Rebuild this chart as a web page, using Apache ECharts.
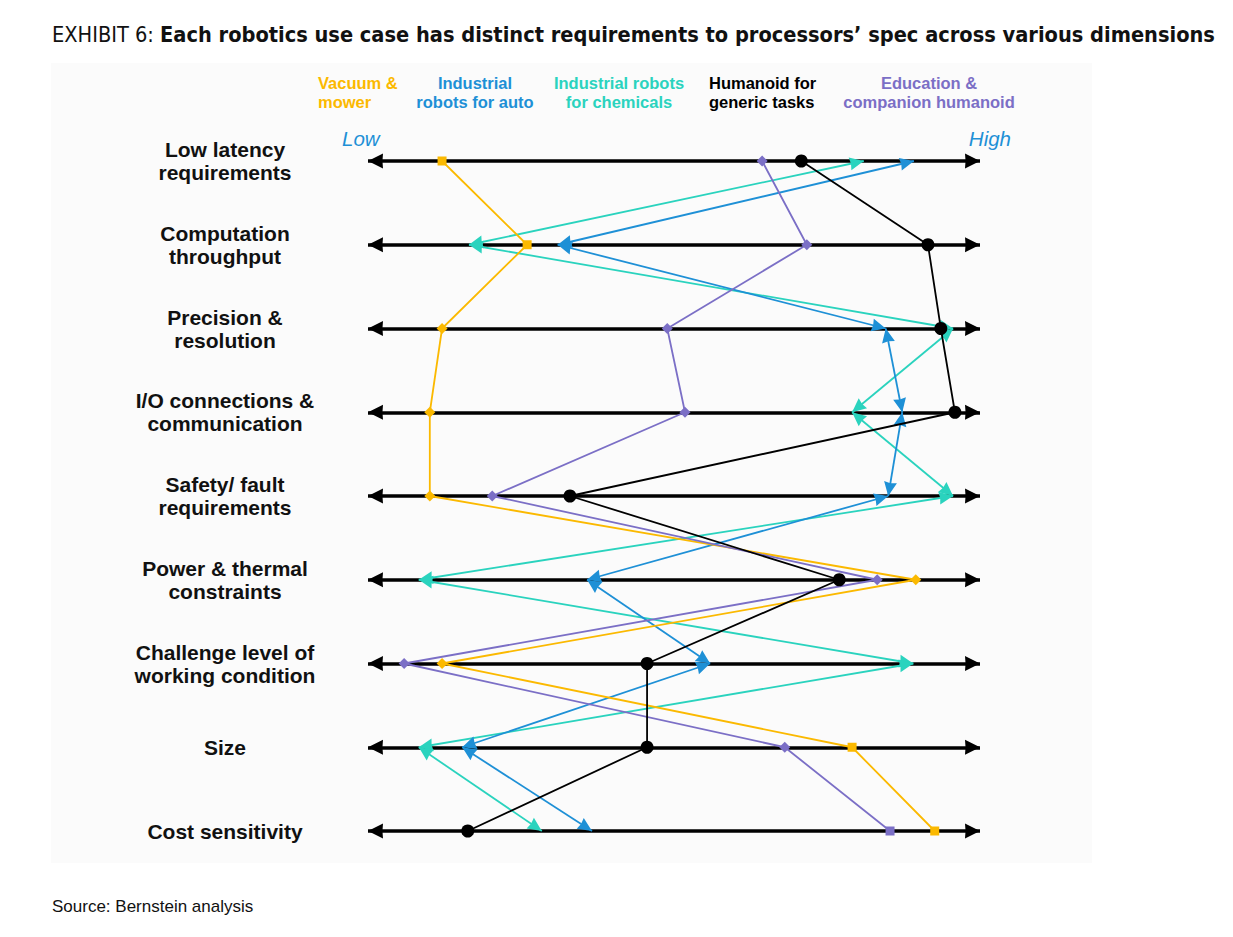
<!DOCTYPE html>
<html>
<head>
<meta charset="utf-8">
<script src="https://cdn.jsdelivr.net/npm/echarts@6/dist/echarts.min.js"></script>
<style>
html,body{margin:0;padding:0;background:#fff;}
#chart{width:1233px;height:937px;}
</style>
</head>
<body>
<div id="chart"></div>
<script>
// ---- data ----
var dimensions = [
  'Low latency\nrequirements',
  'Computation\nthroughput',
  'Precision &\nresolution',
  'I/O connections &\ncommunication',
  'Safety/ fault\nrequirements',
  'Power & thermal\nconstraints',
  'Challenge level of\nworking condition',
  'Size',
  'Cost sensitivity'
];
var seriesNames = [
  'Vacuum &\nmower',
  'Industrial\nrobots for auto',
  'Industrial robots\nfor chemicals',
  'Humanoid for\ngeneric tasks',
  'Education &\ncompanion humanoid'
];
// scores from Low (0) to High (100), one per dimension
var vacuumMower       = [12.1, 26.0, 12.1, 10.1, 10.1, 89.5, 12.1, 79.1, 92.6];
var industrialAuto    = [89.2, 31.0, 84.6, 87.3, 85.0, 35.8, 55.9, 15.4, 36.6];
var industrialChem    = [81.0, 16.5, 95.6, 79.1, 95.6, 8.3, 89.1, 8.3, 28.4];
var humanoidGeneric   = [70.8, 91.5, 93.6, 95.9, 33.0, 77.0, 45.6, 45.6, 16.3];
var educationHumanoid = [64.4, 71.7, 48.9, 51.8, 20.3, 83.2, 5.9, 68.1, 85.3];
var scaleLabels = ['Low', 'High'];

// ---- styles ----
var C_YEL = '#FBB900', C_BLU = '#1E90D6', C_TEA = '#2AD3BE', C_BLK = '#000000', C_PUR = '#7B6FC6';
// arrowheads whose tip sits at the centre of the symbol box
var ARROW = 'path://M0,0 M28,0 M14,14 L20.5,28 L14,27 L7.5,28 Z';
var AXIS_ARROW = 'path://M0,0 M28,0 M14,14 L21,28 L14,27.5 L7,28 Z';

function pts(vals){ return vals.map(function(v,i){ return [v, dimensions[i]]; }); }
function segs(vals){
  var out = [];
  for (var i = 0; i < vals.length - 1; i++) {
    out.push({coords: [[vals[i], dimensions[i]], [vals[i+1], dimensions[i+1]]]});
  }
  return out;
}
var axisRows = dimensions.map(function(d){ return {coords: [[0, d], [100, d]]}; });

var chart = echarts.init(document.getElementById('chart'), null, {renderer: 'svg'});
var LF = 'Liberation Sans, Arial, sans-serif';
var TF = 'DejaVu Sans Condensed, Liberation Sans Narrow, sans-serif';

var option = {
  backgroundColor: '#ffffff',
  animation: false,
  grid: {left: 368, right: 253, top: 161, bottom: 106},
  xAxis: {type: 'value', min: 0, max: 100, show: false},
  yAxis: {
    type: 'category', data: dimensions, inverse: true, boundaryGap: false,
    axisLine: {show: false}, axisTick: {show: false}, splitLine: {show: false},
    axisLabel: {margin: 143, align: 'center', fontFamily: LF, fontWeight: 'bold', fontSize: 21, color: '#111', lineHeight: 23}
  },
  graphic: [
    {type: 'rect', z: -10, shape: {x: 51, y: 63, width: 1041, height: 800}, style: {fill: '#FBFBFB'}},
    {type: 'text', left: 52, top: 23, style: {
      rich: {
        a: {fontFamily: TF, fontSize: 21.6, fontWeight: 'normal', fill: '#111'},
        b: {fontFamily: TF, fontSize: 21.6, fontWeight: 'bold', fill: '#111'}
      },
      text: '{a|EXHIBIT 6: }{b|Each robotics use case has distinct requirements to processors\u2019 spec across various dimensions}'
    }},
    {type: 'text', left: 52, top: 898, style: {text: 'Source: Bernstein analysis', font: '17px ' + LF, fill: '#111'}},
    {type: 'text', x: 318, y: 73, style: {text: seriesNames[0], font: 'bold 16.5px ' + LF, fill: C_YEL, lineHeight: 19, textAlign: 'left'}},
    {type: 'text', x: 475, y: 73, style: {text: seriesNames[1], font: 'bold 16.5px ' + LF, fill: C_BLU, lineHeight: 19, textAlign: 'center'}},
    {type: 'text', x: 619, y: 73, style: {text: seriesNames[2], font: 'bold 16.5px ' + LF, fill: C_TEA, lineHeight: 19, textAlign: 'center'}},
    {type: 'text', x: 709, y: 73, style: {text: seriesNames[3], font: 'bold 16.5px ' + LF, fill: C_BLK, lineHeight: 19, textAlign: 'left'}},
    {type: 'text', x: 929, y: 73, style: {text: seriesNames[4], font: 'bold 16.5px ' + LF, fill: C_PUR, lineHeight: 19, textAlign: 'center'}},
    {type: 'text', x: 342, y: 128, style: {text: scaleLabels[0], font: 'italic 20.5px ' + LF, fill: C_BLU}},
    {type: 'text', x: 1011, y: 128, style: {text: scaleLabels[1], font: 'italic 20.5px ' + LF, fill: C_BLU, textAlign: 'right'}}
  ],
  series: [
    {
      type: 'lines', coordinateSystem: 'cartesian2d', z: 1, clip: false,
      symbol: [AXIS_ARROW, AXIS_ARROW], symbolSize: 30,
      lineStyle: {color: '#000', width: 3.6, opacity: 1},
      data: axisRows
    },
    {
      name: seriesNames[2], type: 'lines', coordinateSystem: 'cartesian2d', z: 3, clip: false,
      symbol: [ARROW, ARROW], symbolSize: 28,
      lineStyle: {color: C_TEA, width: 1.8, opacity: 1},
      data: segs(industrialChem)
    },
    {
      name: seriesNames[1], type: 'lines', coordinateSystem: 'cartesian2d', z: 3, clip: false,
      symbol: [ARROW, ARROW], symbolSize: 28,
      lineStyle: {color: C_BLU, width: 1.8, opacity: 1},
      data: segs(industrialAuto)
    },
    {
      name: seriesNames[0], type: 'line', z: 4, clip: false,
      data: pts(vacuumMower),
      symbol: function(v, p){ return (p.dataIndex === 0 || p.dataIndex === 1 || p.dataIndex >= 7) ? 'rect' : 'diamond'; },
      symbolSize: function(v, p){ return (p.dataIndex === 0 || p.dataIndex === 1 || p.dataIndex >= 7) ? 9 : 11; },
      itemStyle: {color: C_YEL}, lineStyle: {color: C_YEL, width: 1.8}
    },
    {
      name: seriesNames[4], type: 'line', z: 4, clip: false,
      data: pts(educationHumanoid),
      symbol: function(v, p){ return (p.dataIndex === 8) ? 'rect' : 'diamond'; },
      symbolSize: function(v, p){ return (p.dataIndex === 8) ? 9 : 11; },
      itemStyle: {color: C_PUR}, lineStyle: {color: C_PUR, width: 1.8}
    },
    {
      name: seriesNames[3], type: 'line', z: 5, clip: false,
      data: pts(humanoidGeneric),
      symbol: 'circle', symbolSize: 13,
      itemStyle: {color: C_BLK}, lineStyle: {color: C_BLK, width: 1.8}
    }
  ]
};
chart.setOption(option);
</script>
</body>
</html>
